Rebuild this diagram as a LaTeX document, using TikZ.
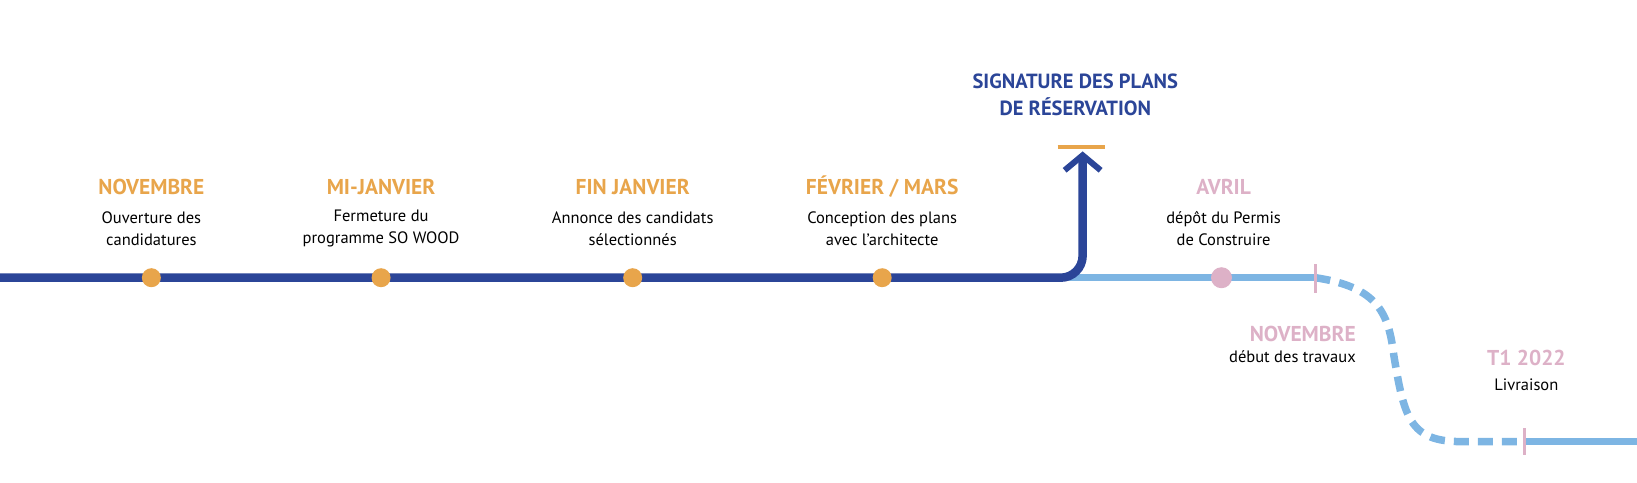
\documentclass[tikz,border=0pt]{standalone}
\usepackage{fontspec}
\setmainfont{PT Sans}
\usetikzlibrary{arrows.meta}
\definecolor{orng}{HTML}{E8A54B}
\definecolor{dblue}{HTML}{2B4598}
\definecolor{lblue}{HTML}{7DB5E3}
\definecolor{pnk}{HTML}{DDB1C7}
\begin{document}
\begin{tikzpicture}[x=1.044pt,y=-1.044pt,
  ttl/.style={font=\bfseries\fontsize{21.5}{24}\selectfont,align=center},
  dsc/.style={font=\fontsize{16.5}{22}\selectfont,align=center,text=black},
  dot/.style={circle,inner sep=0pt,minimum size=19pt}]
\useasboundingbox (0,0) rectangle (1568,461.7);
% light blue segment
\coordinate (lbA) at (1020,266);
\coordinate (tk1) at (1260,266);
\coordinate (tk2) at (1460,423);
\coordinate (endA) at (1600,423);
\draw[lblue,line width=7.5pt] (lbA) -- (tk1);
\draw[lblue,line width=7.5pt,dash pattern=on 15pt off 9pt]
  (tk1) .. controls (1320,275) and (1330,300) .. (1335,340)
  .. controls (1345,400) and (1350,423) .. (1400,423) -- (tk2);
\draw[lblue,line width=6.5pt,-{Straight Barb[length=17pt,width=38pt,line width=5pt]}] (tk2) -- (endA);
% dark blue
\coordinate (s) at (0,266);
\coordinate (up) at (1037,145);
\draw[dblue,line width=8.5pt,rounded corners=22pt,-{Straight Barb[length=15pt,width=36pt,line width=6pt]}] (s) -- (1037,266) -- (up);
\draw[orng,line width=4pt] (1013,141) -- (1058,141);
% ticks
\draw[pnk,line width=3pt] (1260,253) -- (1260,281);
\draw[pnk,line width=3pt] (1460,410) -- (1460,436);
\node[dot,fill=pnk,minimum size=21pt] (av) at (1170,266) {};
% dots
\foreach \n/\x in {a/145,b/365,c/606,d/845}{\node[dot,fill=orng] (\n) at (\x,266) {};}
% labels
\node[ttl,text=orng] (t1) at (145,179) {NOVEMBRE};
\node[dsc] (d1) at (145,219) {Ouverture des\\candidatures};
\node[ttl,text=orng] (t2) at (365,179) {MI-JANVIER};
\node[dsc] (d2) at (365,219) {Fermeture du\\programme SO WOOD};
\node[ttl,text=orng] (t3) at (606,179) {FIN JANVIER};
\node[dsc] (d3) at (606,219) {Annonce des candidats\\sélectionnés};
\node[ttl,text=orng] (t4) at (845,179) {FÉVRIER / MARS};
\node[dsc] (d4) at (845,219) {Conception des plans\\avec l’architecte};
\node[ttl,text=dblue,font=\bfseries\fontsize{20.5}{27}\selectfont] (t5) at (1030,91) {SIGNATURE DES PLANS\\DE RÉSERVATION};
\node[ttl,text=pnk] (t6) at (1172,179) {AVRIL};
\node[dsc] (d6) at (1172,219) {dépôt du Permis\\de Construire};
\node[ttl,text=pnk,anchor=east] (t7) at (1302,320) {NOVEMBRE};
\node[dsc,anchor=east] (d7) at (1302,342) {début des travaux};
\node[ttl,text=pnk] (t8) at (1462,343) {T1 2022};
\node[dsc] (d8) at (1462,369) {Livraison};
\end{tikzpicture}
\end{document}
